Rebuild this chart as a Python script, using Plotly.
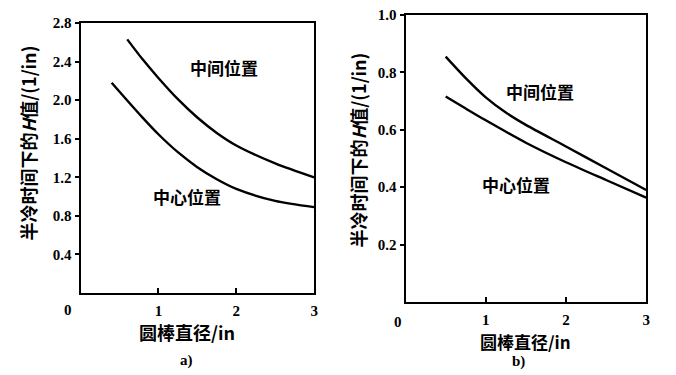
import plotly.graph_objects as go

# Panel a) data
a_mid_x = [0.6, 0.8, 1.0, 1.25, 1.5, 1.75, 2.0, 2.5, 3.0]
a_mid_y = [2.63, 2.42, 2.23, 2.01, 1.82, 1.66, 1.53, 1.345, 1.20]
a_ctr_x = [0.4, 0.6, 0.8, 1.0, 1.25, 1.5, 1.75, 2.0, 2.5, 3.0]
a_ctr_y = [2.18, 1.996, 1.816, 1.646, 1.46, 1.305, 1.18, 1.08, 0.955, 0.89]

# Panel b) data
b_mid_x = [0.5, 0.75, 1.0, 1.25, 1.5, 2.0, 2.5, 3.0]
b_mid_y = [0.855, 0.78, 0.713, 0.66, 0.617, 0.542, 0.466, 0.39]
b_ctr_x = [0.5, 0.75, 1.0, 1.5, 2.0, 2.5, 3.0]
b_ctr_y = [0.716, 0.674, 0.633, 0.555, 0.487, 0.425, 0.364]

a_yticks = [0.4, 0.8, 1.2, 1.6, 2.0, 2.4, 2.8]
b_yticks = [0.2, 0.4, 0.6, 0.8, 1.0]
xticks = [1, 2, 3]

label_mid = "中间位置"
label_ctr = "中心位置"
xtitle = "圆棒直径/in"
ytitle = "半冷时间下的<i>H</i>值/(1/in)"

W, H = 676, 375


def py(y):
    # target pixel row -> paper fraction (with small render compensation)
    return 1 - ((y - 8) / 0.982) / H


cjk = dict(family="Noto Sans CJK SC", size=17, color="black", weight="bold")
cjk_t = dict(family="Noto Sans CJK SC", size=18, color="black", weight="bold")
num = dict(family="Liberation Serif", size=15, color="black", weight="bold")

fig = go.Figure()
line = dict(color="black", width=2.4, shape="spline", smoothing=0.8)
fig.add_trace(go.Scatter(x=a_mid_x, y=a_mid_y, mode="lines", line=line, xaxis="x", yaxis="y"))
fig.add_trace(go.Scatter(x=a_ctr_x, y=a_ctr_y, mode="lines", line=line, xaxis="x", yaxis="y"))
fig.add_trace(go.Scatter(x=b_mid_x, y=b_mid_y, mode="lines", line=line, xaxis="x2", yaxis="y2"))
fig.add_trace(go.Scatter(x=b_ctr_x, y=b_ctr_y, mode="lines", line=line, xaxis="x2", yaxis="y2"))

axcommon = dict(showgrid=False, zeroline=False, showline=True, linecolor="black",
                linewidth=2, mirror=True, tickfont=num, tickcolor="black")

fig.update_layout(
    width=W, height=H, margin=dict(l=0, r=0, t=0, b=0),
    paper_bgcolor="white", plot_bgcolor="white", showlegend=False,
    xaxis=dict(domain=[81 / W, 316 / W], range=[0, 3], tickvals=xticks,
               ticks="inside", ticklen=5, tickwidth=2, ticklabelstandoff=3,
               anchor="y", **axcommon),
    yaxis=dict(domain=[py(294), py(23)], range=[0, 2.8], tickvals=a_yticks,
               tickformat=".1f", ticks="outside", ticklen=4, tickwidth=2, anchor="x", **axcommon),
    xaxis2=dict(domain=[408 / W, 650 / W], range=[0, 3], tickvals=xticks,
                ticks="inside", ticklen=5, tickwidth=2, ticklabelstandoff=3,
                anchor="y2", **axcommon),
    yaxis2=dict(domain=[py(303), py(15)], range=[0, 1.0], tickvals=b_yticks,
                tickformat=".1f", ticks="outside", ticklen=4, tickwidth=2, anchor="x2", **axcommon),
)

C = dict(showarrow=False, xanchor="center", yanchor="middle")
ann = []
# curve labels
ann.append(dict(x=1.84, y=2.34, xref="x", yref="y", text=label_mid, font=cjk, **C))
ann.append(dict(x=1.37, y=1.0, xref="x", yref="y", text=label_ctr, font=cjk, **C))
ann.append(dict(x=1.67, y=0.735, xref="x2", yref="y2", text=label_mid, font=cjk, **C))
ann.append(dict(x=1.38, y=0.41, xref="x2", yref="y2", text=label_ctr, font=cjk, **C))
# origin "0" labels
ann.append(dict(x=0, y=0, xref="x", yref="y", text="0", showarrow=False, font=num,
                xanchor="center", yanchor="top", xshift=-13, yshift=-7))
ann.append(dict(x=0, y=0, xref="x2", yref="y2", text="0", showarrow=False, font=num,
                xanchor="center", yanchor="top", xshift=-8, yshift=-10))
# x titles
ann.append(dict(x=188 / W, y=py(333), xref="paper", yref="paper", text=xtitle, font=cjk_t, **C))
ann.append(dict(x=529 / W, y=py(343), xref="paper", yref="paper", text=xtitle, font=cjk, **C))
# captions
ann.append(dict(x=188 / W, y=py(362), xref="paper", yref="paper", text="a)", font=num, **C))
ann.append(dict(x=522 / W, y=py(363), xref="paper", yref="paper", text="b)", font=num, **C))
# y titles
ann.append(dict(x=28 / W, y=py(143), xref="paper", yref="paper", text=ytitle,
                textangle=-90, font=cjk_t, **C))
ann.append(dict(x=360 / W, y=py(150), xref="paper", yref="paper", text=ytitle,
                textangle=-90, font=cjk_t, **C))
fig.update_layout(annotations=ann)

fig.write_html("out.html", config={"displayModeBar": False},
               post_script="document.body.style.margin='0';document.body.style.overflow='hidden';")
